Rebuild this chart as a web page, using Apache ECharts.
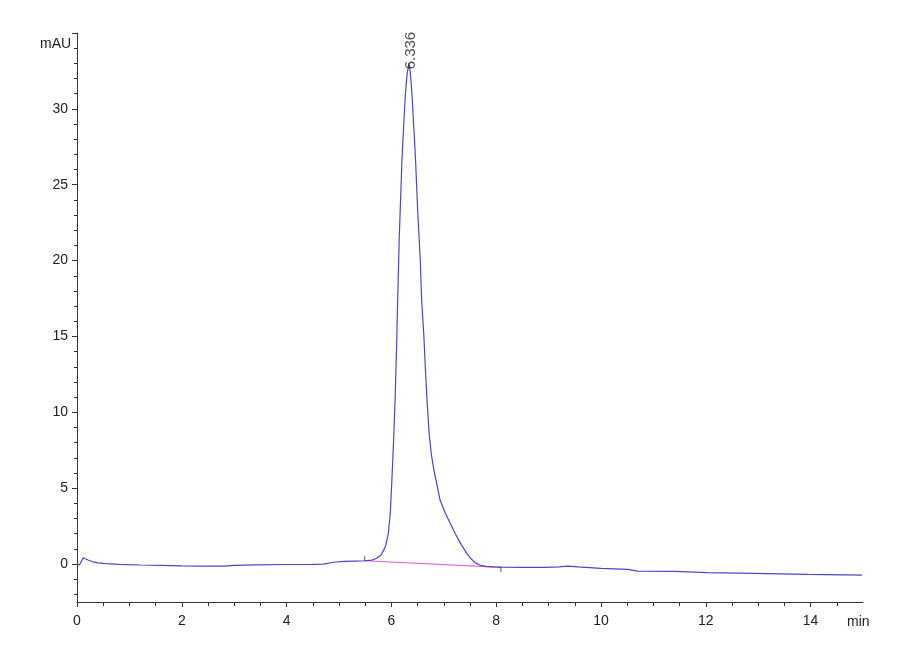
<!DOCTYPE html>
<html>
<head>
<meta charset="utf-8">
<script src="https://cdn.jsdelivr.net/npm/echarts@6/dist/echarts.min.js"></script>
<style>
html,body{margin:0;padding:0;background:#fff;}
#chart{width:900px;height:660px;}
</style>
</head>
<body>
<div id="chart"></div>
<script>
// Retention time (min) and detector signal (mAU)
var traceTime = [0.00,0.05,0.08,0.12,0.16,0.22,0.30,0.40,0.55,0.80,1.20,1.60,2.00,2.40,2.80,3.00,3.40,4.00,4.50,4.70,4.90,5.10,5.30,5.50,5.63,5.72,5.80,5.85,5.89,5.94,5.98,6.01,6.04,6.07,6.10,6.12,6.15,6.20,6.24,6.27,6.30,6.336,6.36,6.39,6.43,6.46,6.50,6.55,6.58,6.62,6.65,6.68,6.72,6.76,6.81,6.87,6.93,7.03,7.12,7.22,7.33,7.44,7.52,7.60,7.70,7.80,7.95,8.10,8.50,8.93,9.20,9.37,9.56,10.00,10.51,10.70,11.40,12.03,12.92,13.94,14.98];
var traceSignal = [0.00,-0.05,0.00,0.42,0.35,0.25,0.15,0.08,0.03,-0.02,-0.06,-0.09,-0.12,-0.14,-0.14,-0.08,-0.05,-0.03,-0.02,0.00,0.12,0.18,0.20,0.22,0.26,0.38,0.60,0.90,1.20,2.00,3.40,5.60,8.00,10.80,14.50,17.50,21.50,26.50,29.30,31.10,32.30,33.00,32.40,31.10,28.60,26.70,23.40,20.10,17.20,15.00,12.80,10.80,8.60,7.30,6.20,5.20,4.20,3.35,2.70,2.00,1.30,0.70,0.35,0.08,-0.08,-0.15,-0.18,-0.20,-0.22,-0.22,-0.18,-0.13,-0.18,-0.28,-0.35,-0.46,-0.48,-0.57,-0.62,-0.68,-0.73];

// Integration baseline (start/end) and peak
var baselineTime = [5.49, 8.09];
var baselineSignal = [0.22, -0.22];
var peakTime = [6.336];
var peakSignal = [33.0];

// Axis ticks
var xMajorTicks = [0,2,4,6,8,10,12,14];
var xMinorTicks = [0.5,1,1.5,2.5,3,3.5,4.5,5,5.5,6.5,7,7.5,8.5,9,9.5,10.5,11,11.5,12.5,13,13.5,14.5];
var yMajorTicks = [0,5,10,15,20,25,30,35];
var yLabelTicks = [0,5,10,15,20,25,30];
var yMinorTicks = [-2,-1,1,2,3,4,6,7,8,9,11,12,13,14,16,17,18,19,21,22,23,24,26,27,28,29,31,32,33,34];
var xUnit = 'min';
var yUnit = 'mAU';

function pairs(a, b){ return a.map(function(v,i){ return [v, b[i]]; }); }

var font = "'Liberation Sans Narrow','Liberation Sans',Arial,sans-serif";
var axisColor = '#333';

var chart = echarts.init(document.getElementById('chart'), null, {renderer:'canvas'});
var tickMarkLen = 0.3;
chart.setOption({
  animation:false,
  backgroundColor:'#fff',
  grid:{left:77, right:37, top:33, bottom:58},
  xAxis:[{
    type:'value', min:0, max:15,
    axisLine:{show:true, onZero:false, lineStyle:{color:axisColor, width:1}},
    axisTick:{show:true, length:5, customValues:xMajorTicks, lineStyle:{color:axisColor}},
    axisLabel:{show:true, customValues:xMajorTicks, color:'#222', fontFamily:font, fontSize:14, margin:12},
    splitLine:{show:false}
  },{
    type:'value', min:0, max:15, position:'bottom',
    axisLine:{show:false, onZero:false},
    axisTick:{show:true, length:4, customValues:xMinorTicks, lineStyle:{color:axisColor}},
    axisLabel:{show:false},
    splitLine:{show:false}
  }],
  yAxis:[{
    type:'value', min:-2.5, max:35,
    axisLine:{show:true, onZero:false, lineStyle:{color:axisColor, width:1}},
    axisTick:{show:true, length:5, customValues:yMajorTicks, lineStyle:{color:axisColor}},
    axisLabel:{show:true, customValues:yLabelTicks, color:'#222', fontFamily:font, fontSize:14, margin:9},
    splitLine:{show:false}
  },{
    type:'value', min:-2.5, max:35, position:'left',
    axisLine:{show:false, onZero:false},
    axisTick:{show:true, length:3, customValues:yMinorTicks, lineStyle:{color:axisColor}},
    axisLabel:{show:false},
    splitLine:{show:false}
  }],
  graphic:[
    {type:'text', left:40, top:37, style:{text:yUnit, fontFamily:font, fontSize:14, fill:'#222'}},
    {type:'text', left:847, top:615, style:{text:xUnit, fontFamily:font, fontSize:14, fill:'#222'}}
  ],
  series:[
    {
      type:'line', data:pairs(baselineTime, baselineSignal), showSymbol:false, symbol:'none',
      lineStyle:{color:'#e060e0', width:1.2}, z:2
    },
    {
      type:'line', data:[[baselineTime[0], baselineSignal[0]-0.05],[baselineTime[0], baselineSignal[0]+tickMarkLen]], symbol:'none',
      lineStyle:{color:'#555', width:1}, z:3
    },
    {
      type:'line', data:[[baselineTime[1], baselineSignal[1]+0.05],[baselineTime[1], baselineSignal[1]-tickMarkLen]], symbol:'none',
      lineStyle:{color:'#555', width:1}, z:3
    },
    {
      type:'line', data:pairs(traceTime, traceSignal), showSymbol:false, symbol:'none',
      lineStyle:{color:'#4848c8', width:1.2}, z:4
    },
    {
      type:'scatter', data:pairs(peakTime, peakSignal), symbolSize:0, z:5,
      label:{show:true, rotate:90, position:'inside', align:'left', verticalAlign:'middle',
        offset:[-6,2],
        formatter:function(p){ return p.value[0].toFixed(3); },
        color:'#222', fontFamily:"'Liberation Sans',Arial,sans-serif", fontSize:15}
    }
  ]
});
</script>
</body>
</html>
